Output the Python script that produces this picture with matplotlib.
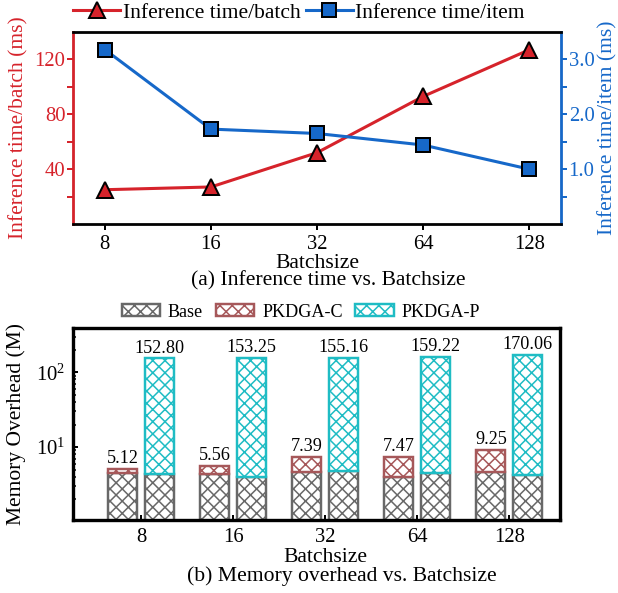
import matplotlib
matplotlib.use('Agg')
import matplotlib.pyplot as plt
import numpy as np

batch_sizes = ['8', '16', '32', '64', '128']
time_per_batch = [25, 27, 52, 93, 127]
time_per_item = [3.18, 1.73, 1.65, 1.44, 1.0]

base_c = [4.5, 4.4, 4.6, 4.0, 4.6]
base_p = [4.4, 4.0, 4.75, 4.5, 4.2]
total_c = [5.12, 5.56, 7.39, 7.47, 9.25]
total_p = [152.80, 153.25, 155.16, 159.22, 170.06]

RED = '#d6232b'
BLUE = '#1668c9'
GRAY = '#686868'
BROWN = '#a6585a'
CYAN = '#1fbcc4'

FS = 14.2   # captions, xlabels
FT = 13.5   # tick labels
FL = 14.1   # y labels, top legend
FB = 11.9   # bar value labels, bottom legend

plt.rcParams['font.family'] = ['Liberation Serif', 'DejaVu Serif']
plt.rcParams['font.size'] = FS
plt.rcParams['mathtext.fontset'] = 'stix'
plt.rcParams['hatch.linewidth'] = 1.0

DPI = 110
fig = plt.figure(figsize=(618 / DPI, 593 / DPI), dpi=DPI)

W, H = 618.0, 593.0


def box(l, t, r, b):
    return [l / W, 1 - b / H, (r - l) / W, (b - t) / H]


# (a) inference time
ax1 = fig.add_axes(box(73, 32, 561, 224))
ax2 = ax1.twinx()
x = np.arange(len(batch_sizes))
l1, = ax1.plot(x, time_per_batch, color=RED, lw=2, marker='^', ms=10,
               mfc=RED, mec='black', mew=1.3, label='Inference time/batch', zorder=3)
l2, = ax2.plot(x, time_per_item, color=BLUE, lw=2, marker='s', ms=9.5,
               mfc=BLUE, mec='black', mew=1.3, label='Inference time/item', zorder=3)
ax1.set_xlim(-0.3, 4.3)
ax1.set_ylim(0, 140)
ax2.set_ylim(0, 3.5)
ax1.set_xticks(x)
ax1.set_xticklabels(batch_sizes)
ax1.set_yticks([40, 80, 120])
ax1.set_yticks([20, 60, 100], minor=True)
ax2.set_yticks([1.0, 2.0, 3.0])
ax2.set_yticks([0.5, 1.5, 2.5], minor=True)
ax2.set_yticklabels(['1.0', '2.0', '3.0'])
tk = dict(direction='out', length=4, width=1.3)
ax1.tick_params(axis='y', which='both', colors=RED, labelsize=FT, pad=1, **tk)
ax2.tick_params(axis='y', which='both', colors=BLUE, labelsize=FT, pad=1, **tk)
ax1.tick_params(axis='x', labelsize=FT, pad=3, **tk)
for sp in ['top', 'bottom']:
    ax2.spines[sp].set_linewidth(1.8)
    ax2.spines[sp].set_color('black')
ax2.spines['left'].set_color(RED)
ax2.spines['left'].set_linewidth(1.8)
ax2.spines['right'].set_color(BLUE)
ax2.spines['right'].set_linewidth(1.8)
ax1.set_ylabel('Inference time/batch (ms)', color=RED, fontsize=FL)
ax2.set_ylabel('Inference time/item (ms)', color=BLUE, fontsize=FL)
ax1.yaxis.set_label_coords((28 - 73) / 488.0, 0.5)
ax2.yaxis.set_label_coords((598 - 73) / 488.0, 0.5)
ax1.legend(handles=[l1, l2], loc='center', bbox_to_anchor=(0.463, 1 + (32 - 13) / 192.0),
           ncol=2, frameon=False, fontsize=FL, handlelength=2.2, handletextpad=0.1,
           columnspacing=0.25, borderaxespad=0, borderpad=0.1)
fig.text(317 / W, 1 - 263 / H, 'Batchsize', ha='center', va='center', fontsize=FS)
fig.text(328 / W, 1 - 281 / H, '(a) Inference time vs. Batchsize', ha='center', va='center', fontsize=FS)

# (b) memory overhead
ax3 = fig.add_axes(box(73, 328, 560, 520))
ax3.set_yscale('log')
w = 0.315
off = 0.2
extra_c = np.array(total_c) - np.array(base_c)
extra_p = np.array(total_p) - np.array(base_p)
bkw = dict(width=w, color='white', linewidth=1.6)
ax3.bar(x - off, base_c, edgecolor=GRAY, hatch='xxx', label='Base', **bkw)
ax3.bar(x + off, base_p, edgecolor=GRAY, hatch='xxx', **bkw)
ax3.bar(x - off, extra_c, bottom=base_c, edgecolor=BROWN, hatch='xxx', label='PKDGA-C', **bkw)
ax3.bar(x + off, extra_p, bottom=base_p, edgecolor=CYAN, hatch='xxx', label='PKDGA-P', **bkw)
for i in range(len(x)):
    ax3.text(x[i] - off, total_c[i] * 1.06, '%.2f' % total_c[i], ha='center', va='bottom', fontsize=FB)
    ax3.text(x[i] + off, total_p[i] * 1.06, '%.2f' % total_p[i], ha='center', va='bottom', fontsize=FB)
ax3.set_xlim(-0.74, 4.55)
ax3.set_ylim(1.06, 390)
ax3.set_xticks(x)
ax3.set_xticklabels(batch_sizes)
ax3.set_yticks([10, 100])
ax3.tick_params(axis='both', which='major', direction='in', length=3.5, width=1.3,
                labelsize=FT, pad=5)
ax3.tick_params(axis='y', which='minor', direction='in', length=2, width=1.0)
for sp in ax3.spines.values():
    sp.set_linewidth(2.2)
ax3.set_ylabel('Memory Overhead (M)', fontsize=FL)
ax3.yaxis.set_label_coords((26 - 73) / 487.0, 0.5)
ax3.legend(loc='center', bbox_to_anchor=(0.468, 1 + (328 - 312) / 192.0), ncol=3, frameon=False,
           fontsize=FB, handlelength=2.1, handleheight=0.65, handletextpad=0.45,
           columnspacing=0.7, borderaxespad=0, borderpad=0.1)
fig.text(325 / W, 1 - 557 / H, 'Batchsize', ha='center', va='center', fontsize=FS)
fig.text(342 / W, 1 - 576 / H, '(b) Memory overhead vs. Batchsize', ha='center', va='center', fontsize=FS)

fig.savefig('out.png', dpi=DPI)
